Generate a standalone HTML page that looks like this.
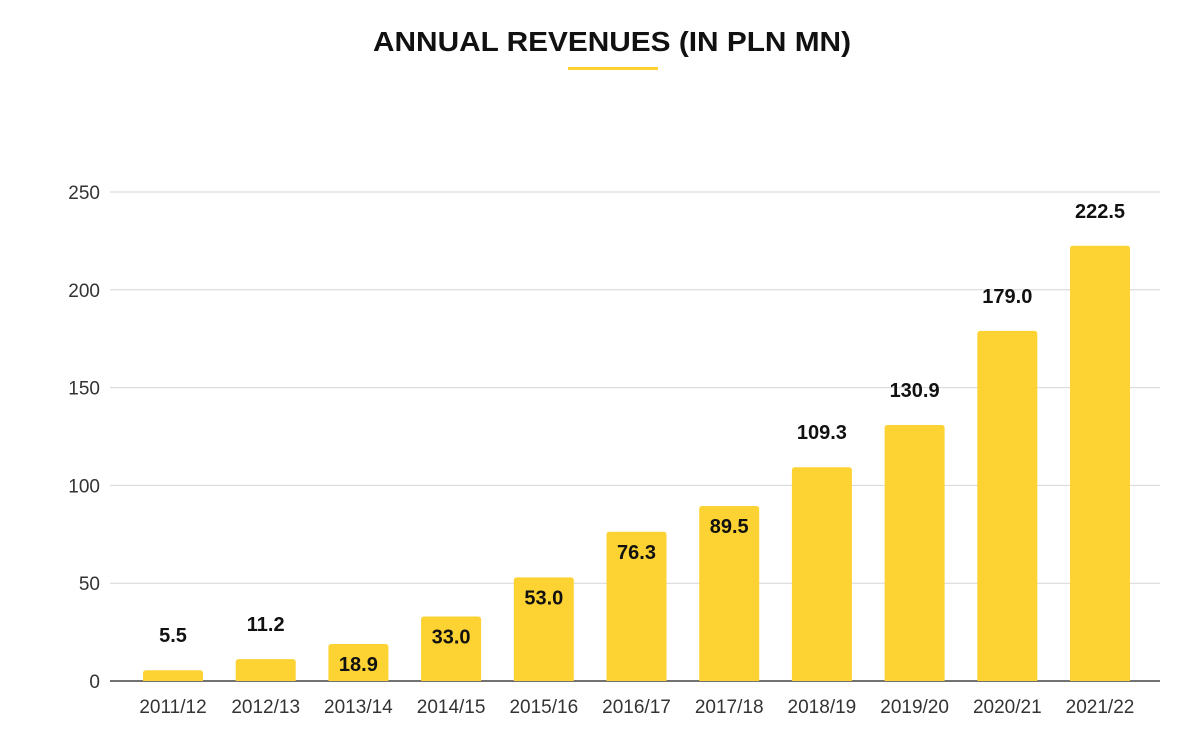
<!DOCTYPE html>
<html><head><meta charset="utf-8"><style>
body{margin:0;background:#fff;}
svg{display:block;font-family:"Liberation Sans",Arial,sans-serif;}
</style></head><body>
<svg id="chart" width="1200" height="743">
<text x="612" y="51" text-anchor="middle" font-size="28" font-weight="bold" fill="#111" textLength="478" lengthAdjust="spacingAndGlyphs">ANNUAL REVENUES (IN PLN MN)</text>
<rect x="568" y="67" width="90" height="3" fill="#FDD233"/>
<g id="grid"></g><g id="bars"></g><g id="labels"></g>
</svg>
<script>
const categories=["2011/12","2012/13","2013/14","2014/15","2015/16","2016/17","2017/18","2018/19","2019/20","2020/21","2021/22"];
const revenues=[5.5,11.2,18.9,33.0,53.0,76.3,89.5,109.3,130.9,179.0,222.5];
const yTicks=[0,50,100,150,200,250];
const NS="http://www.w3.org/2000/svg";
const x0=110,x1=1160,yBase=681,yTop=192,yMax=250;
const y=v=>yBase-(v/yMax)*(yBase-yTop);
const step=92.7;
const xc=i=>173+step*i;
const bw=60;
function mk(t,a,p){const e=document.createElementNS(NS,t);for(const k in a)e.setAttribute(k,a[k]);p.appendChild(e);return e;}
const grid=document.getElementById('grid'),bars=document.getElementById('bars'),labels=document.getElementById('labels');
yTicks.forEach(t=>{
  const l=mk('line',{x1:x0,x2:x1,y1:y(t),y2:y(t),stroke:t===0?'#444':'#d6d6d6','stroke-width':t===0?1.5:1},grid);
  
  
  const tx=mk('text',{x:100,y:y(t)+7,'text-anchor':'end','font-size':19,fill:'#333'},grid);
  tx.textContent=t;
  
  
});
revenues.forEach((v,i)=>{
  const top=y(v),h=yBase-top,r=Math.min(3,h/2),xl=xc(i)-bw/2;
  const p=mk('path',{d:`M${xl},${yBase}V${top+r}Q${xl},${top} ${xl+r},${top}H${xl+bw-r}Q${xl+bw},${top} ${xl+bw},${top+r}V${yBase}Z`,fill:'#FDD233'},bars);
  
  
  const inside=v>15&&v<100;
  const lb=mk('text',{x:xc(i),y:inside?top+27:top-28,'text-anchor':'middle','font-size':20,'font-weight':'bold',fill:'#111'},labels);
  lb.textContent=v.toFixed(1);
  
  
  const cl=mk('text',{x:xc(i),y:713,'text-anchor':'middle','font-size':19,fill:'#333'},labels);
  cl.textContent=categories[i];
  
  
});
</script>
</body></html>
